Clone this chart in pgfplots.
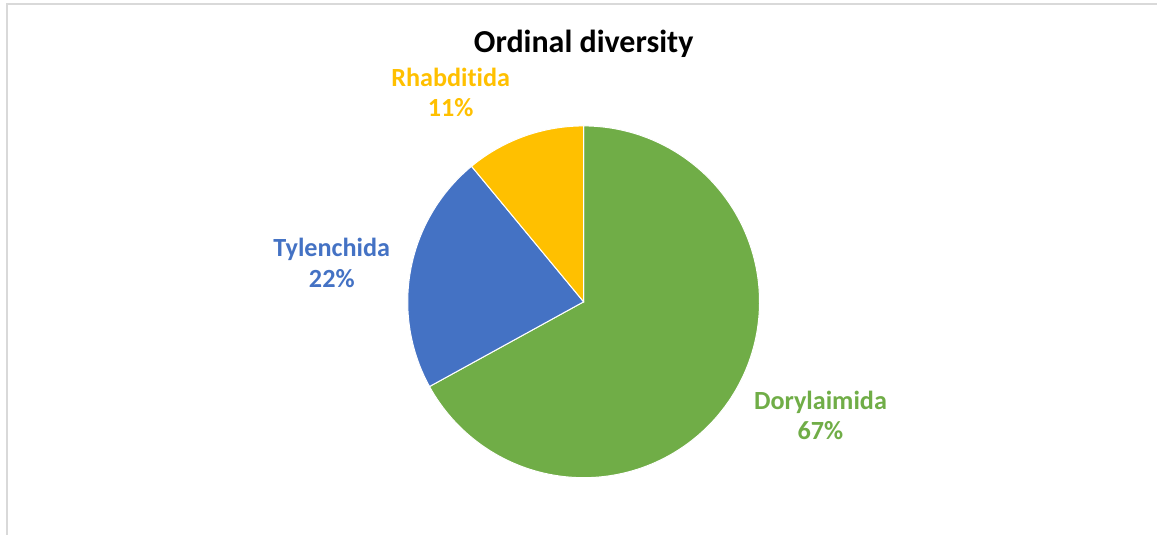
\documentclass[border=0pt]{standalone}
\usepackage{pgfplots}
\pgfplotsset{compat=1.18}
\usepackage{pgfplotstable}
\usepackage{fontspec}
\setmainfont{Carlito}[Ligatures={NoCommon}]
\definecolor{cgreen}{HTML}{70AD47}
\definecolor{cblue}{HTML}{4472C4}
\definecolor{cgold}{HTML}{FFC000}
\definecolor{cborder}{HTML}{D9D9D9}
\pgfplotstableread{
order share
Dorylaimida 67
Tylenchida 22
Rhabditida 11
}\piedata
\pgfplotstablegetelem{0}{share}\of\piedata \let\sA\pgfplotsretval
\pgfplotstablegetelem{1}{share}\of\piedata \let\sB\pgfplotsretval
\pgfplotstablegetelem{2}{share}\of\piedata \let\sC\pgfplotsretval
\begin{document}
\begin{tikzpicture}
\begin{axis}[x=1pt,y=1pt,xmin=0,xmax=1158,ymin=0,ymax=535,hide axis,clip=false]
\path (axis cs:0,0) rectangle (axis cs:1158,535);
\addplot[draw=cborder, line width=1.5pt] coordinates {(7,0) (7,531) (1158,531)};
\addplot[fill=cgreen, draw=white, line width=1pt, domain={90-3.6*\sA}:90, samples=150, variable=\t]
  ({584+176*cos(\t)},{233+176*sin(\t)}) -- (axis cs:584,233) -- cycle;
\addplot[fill=cblue, draw=white, line width=1pt, domain={90-3.6*(\sA+\sB)}:{90-3.6*\sA}, samples=60, variable=\t]
  ({584+176*cos(\t)},{233+176*sin(\t)}) -- (axis cs:584,233) -- cycle;
\addplot[fill=cgold, draw=white, line width=1pt, domain={90-3.6*(\sA+\sB+\sC)}:{90-3.6*(\sA+\sB)}, samples=30, variable=\t]
  ({584+176*cos(\t)},{233+176*sin(\t)}) -- (axis cs:584,233) -- cycle;
\node[anchor=base, font=\fontsize{32}{38}\selectfont\bfseries] at (axis cs:584,482) {Ordinal diversity};
\node[anchor=base, text=cgold, font=\fontsize{26.2}{31}\selectfont\bfseries] at (axis cs:451,448) {Rhabditida};
\node[anchor=base, text=cgold, font=\fontsize{26.2}{31}\selectfont\bfseries] at (axis cs:451,418) {\sC\%};
\node[anchor=base, text=cblue, font=\fontsize{26.2}{31}\selectfont\bfseries] at (axis cs:332,278) {Tylenchida};
\node[anchor=base, text=cblue, font=\fontsize{26.2}{31}\selectfont\bfseries] at (axis cs:332,247) {\sB\%};
\node[anchor=base, text=cgreen, font=\fontsize{26.2}{31}\selectfont\bfseries] at (axis cs:821,125) {Dorylaimida};
\node[anchor=base, text=cgreen, font=\fontsize{26.2}{31}\selectfont\bfseries] at (axis cs:821,95) {\sA\%};
\end{axis}
\end{tikzpicture}
\end{document}
